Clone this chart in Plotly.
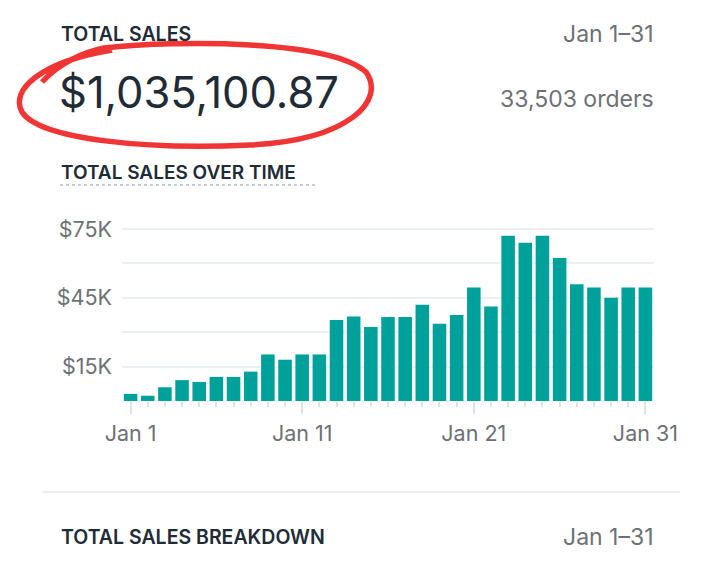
import plotly.graph_objects as go

# daily sales for January
days = list(range(1, 32))
sales = [3100, 2300, 6000, 9100, 8300, 10500, 10500, 12800, 20300, 18000,
         20300, 20300, 35300, 36800, 32300, 36600, 36600, 42000, 33700, 37500,
         49500, 41200, 72000, 69000, 72000, 62300, 50900, 49500, 45000, 49500,
         49500]

x_tick_vals = [1, 11, 21, 31]
x_tick_text = ["Jan 1", "Jan 11", "Jan 21", "Jan 31"]
y_tick_vals = [0, 15000, 30000, 45000, 60000, 75000]
y_tick_text = ["", "$15K", "", "$45K", "", "$75K"]

W, H = 728, 570
OFF = 8  # page body margin
FONT = "Inter"
DARK = "#212b36"
GRAY = "#6d7175"
TEAL = "#00a19a"


def px(x, y):
    # page pixel position -> paper coordinates
    return (x - OFF) / W, 1 - (y - OFF) / H


fig = go.Figure()
fig.add_trace(go.Bar(x=days, y=sales, marker_color=TEAL, marker_line_width=0,
                     hoverinfo="skip"))

fig.update_layout(
    width=W, height=H,
    margin=dict(l=0, r=0, t=0, b=0),
    paper_bgcolor="white", plot_bgcolor="white",
    showlegend=False, bargap=0.21,
    font=dict(family=FONT, color=GRAY, size=22),
)

left, top = px(122, 224.4)
right, bottom = px(654, 401)

fig.update_xaxes(
    domain=[left, right], range=[0.5, 31.5],
    tickmode="array", tickvals=x_tick_vals, ticktext=x_tick_text,
    ticks="outside", ticklen=12, tickwidth=1.5, tickcolor="#dfe3e8",
    showgrid=False, zeroline=False, showline=False,
    ticklabelstandoff=1,
    minor=dict(ticks="outside", ticklen=5, tickwidth=1.5, tickcolor="#dfe3e8",
               dtick=1, tick0=1, showgrid=False),
    automargin=False, fixedrange=True,
    tickfont=dict(size=21.5, color=GRAY),
)

fig.update_yaxes(
    domain=[bottom, top], range=[0, 77000],
    tickmode="array", tickvals=y_tick_vals, ticktext=y_tick_text,
    showgrid=True, gridcolor="#eceff1", gridwidth=1.5,
    zeroline=False, showline=False, ticks="",
    ticklabelstandoff=9, automargin=False, fixedrange=True,
    tickfont=dict(size=21.5, color=GRAY),
)


def label(text, x, y, anchor, size, color, weight=400):
    fx, fy = px(x, y)
    fig.add_annotation(text=text, x=fx, y=fy, xref="paper", yref="paper",
                       xanchor=anchor, yanchor="middle", showarrow=False,
                       font=dict(family=FONT, size=size, color=color, weight=weight))


label("TOTAL SALES", 59, 34, "left", 19.5, DARK, 600)
label("Jan 1–31", 656, 34, "right", 23, GRAY)
label("$1,035,100.87", 57, 92, "left", 43.5, DARK)
label("33,503 orders", 656, 99, "right", 23, GRAY)
label("TOTAL SALES OVER TIME", 59, 172, "left", 19, DARK, 600)
label("TOTAL SALES BREAKDOWN", 59, 537, "left", 19.5, DARK, 600)
label("Jan 1–31", 656, 537, "right", 23, GRAY)

# dotted underline under the chart title
x0, y0 = px(60, 185)
x1, _ = px(316, 185)
fig.add_shape(type="line", xref="paper", yref="paper", x0=x0, x1=x1, y0=y0, y1=y0,
              line=dict(color="#c4cdd5", width=2, dash="dot"))

# separator
x0, y0 = px(43, 492)
x1, _ = px(680, 492)
fig.add_shape(type="line", xref="paper", yref="paper", x0=x0, x1=x1, y0=y0, y1=y0,
              line=dict(color="#e6e9ec", width=1.5))

# hand-drawn red circle around the total
pts = [(42, 82),
       (60, 62), (85, 52), (104, 48),
       (180, 40), (330, 40), (366, 72),
       (386, 100), (350, 140), (250, 145),
       (150, 150), (40, 140), (22, 112),
       (10, 90), (40, 62), (112, 50)]
p = [px(a, b) for a, b in pts]
path = "M {:.4f},{:.4f}".format(*p[0])
for i in range(1, len(p), 3):
    path += " C {:.4f},{:.4f} {:.4f},{:.4f} {:.4f},{:.4f}".format(*p[i], *p[i + 1], *p[i + 2])
fig.add_shape(type="path", path=path, xref="paper", yref="paper",
              line=dict(color="#f03535", width=5.5))

fig.write_html("out.html")
